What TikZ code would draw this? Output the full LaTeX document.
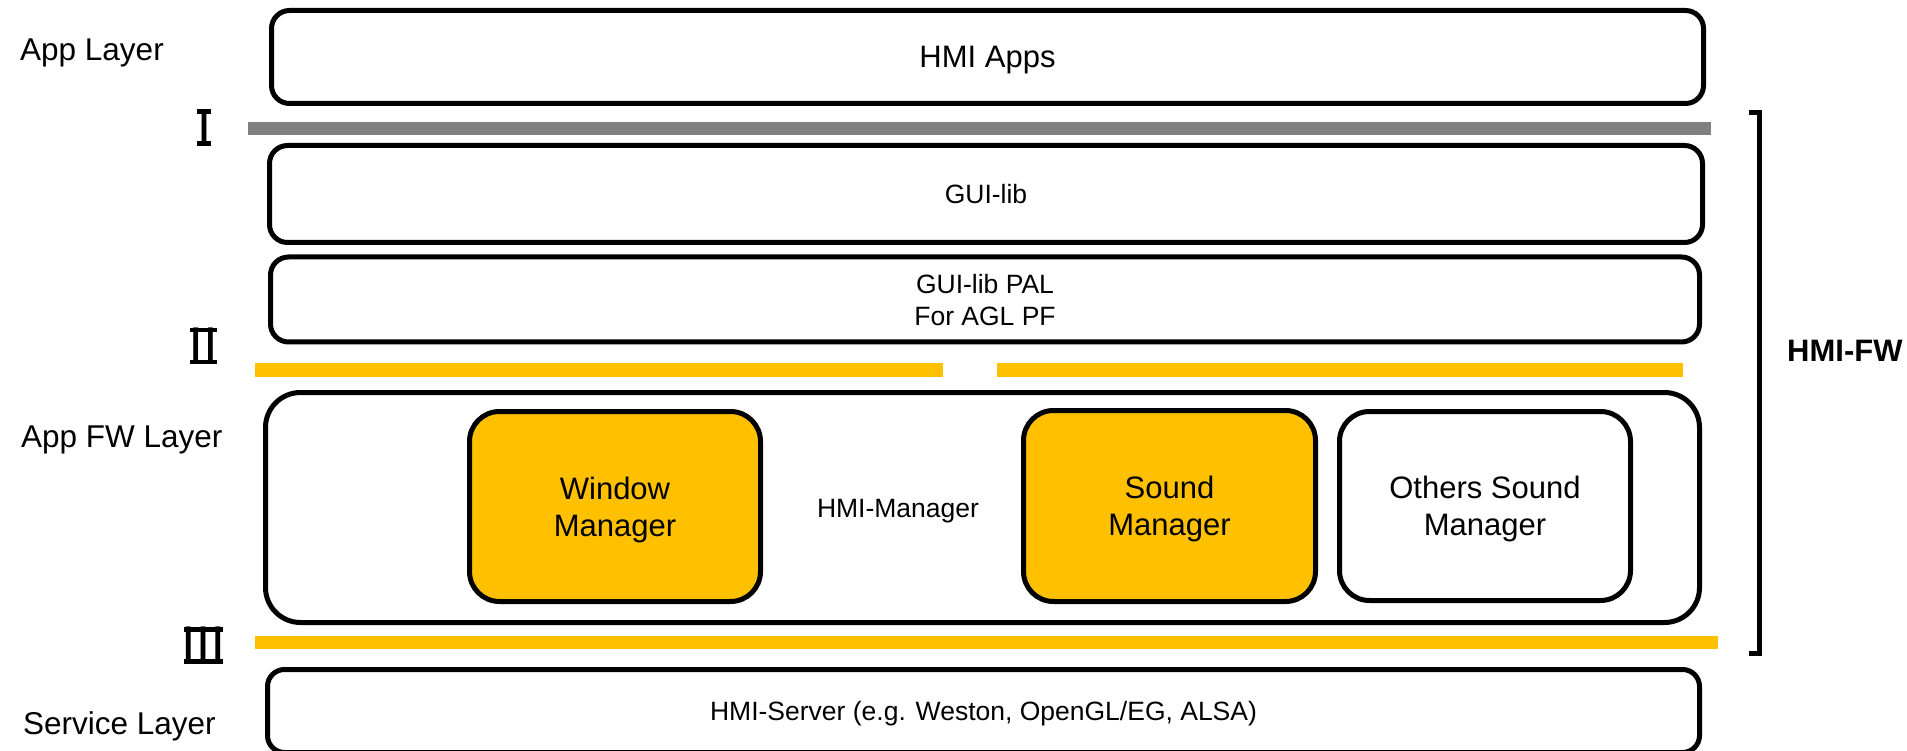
\documentclass[tikz,border=0pt]{standalone}
\usepackage{fontspec}
\setmainfont{Liberation Sans}
\newfontfamily\numfont{Noto Sans CJK JP}
\definecolor{barYellow}{HTML}{FFC000}
\definecolor{barGray}{HTML}{808080}

% top and bottom serif bars of a roman numeral node: #1 node, #2 half width
\newcommand\numeralbars[2]{%
  \fill[black] ([xshift=-#2,yshift=18.5pt]#1.center) rectangle ([xshift=#2,yshift=14pt]#1.center);
  \fill[black] ([xshift=-#2,yshift=-13.5pt]#1.center) rectangle ([xshift=#2,yshift=-18pt]#1.center);
}

\begin{document}
\begin{tikzpicture}[x=1pt,y=-1pt,
  layerbox/.style={draw=black, line width=5pt, fill=white, inner sep=0pt,
                   align=center, rounded corners=18pt, text depth=0pt},
  mgrbox/.style={layerbox, rounded corners=30pt},
  bigtext/.style={font=\fontsize{31}{37}\selectfont},
  smalltext/.style={font=\fontsize{26.5}{32}\selectfont},
  numeral/.style={font=\numfont\fontsize{50}{50}\selectfont, inner sep=0pt},
  label/.style={font=\fontsize{31.5}{36}\selectfont, anchor=base west, inner sep=0pt},
  bracketline/.style={line width=5pt}]

\useasboundingbox (0,0) rectangle (1907,751);
\clip (0,0) rectangle (1907,751);

% interface bars
\fill[barGray]   (248,122.5) rectangle (1711,135.5);
\fill[barYellow] (255,363) rectangle (943,377);
\fill[barYellow] (997,363) rectangle (1683,377);
\fill[barYellow] (255,636) rectangle (1718,649);

% layer boxes
\node[layerbox, bigtext, minimum width=1432pt, minimum height=93pt]
  (apps) at (987.5,57) {HMI Apps};
\node[layerbox, smalltext, minimum width=1433pt, minimum height=97pt]
  (guilib) at (986,194) {GUI-lib};
\node[layerbox, smalltext, minimum width=1429pt, minimum height=85pt]
  (pal) at (985,299.5) {GUI-lib PAL\\For AGL PF};
\node[layerbox, rounded corners=35pt, minimum width=1434pt, minimum height=230pt]
  (fw) at (982.5,507.5) {};
\node[layerbox, smalltext, rounded corners=17pt, minimum width=1432pt, minimum height=83pt]
  (server) at (983.5,711) {HMI-Server (e.g. Weston, OpenGL/EG, ALSA)};

% managers inside the framework layer
\node[smalltext, inner sep=0pt, text depth=0pt] (hmimgr) at (898,508.5) {HMI-Manager};
\node[mgrbox, bigtext, fill=barYellow, minimum width=291pt, minimum height=190pt]
  (wm) at (615,506.5) {Window\\Manager};
\node[mgrbox, bigtext, fill=barYellow, minimum width=292pt, minimum height=191pt]
  (sm) at (1169.5,506) {Sound\\Manager};
\node[mgrbox, bigtext, minimum width=291pt, minimum height=189pt]
  (osm) at (1485,506) {Others Sound\\Manager};

% layer names
\node[label] (lapp)  at (20,61)  {App Layer};
\node[label] (lfw)   at (21,447) {App FW Layer};
\node[label] (lsrv)  at (23,734) {Service Layer};

% interface numerals
\node[numeral] (n1) at (204,128)   {Ⅰ};
\node[numeral] (n2) at (203.5,346.5) {Ⅱ};
\node[numeral] (n3) at (203.5,645.5) {Ⅲ};
\numeralbars{n1}{7pt}
\numeralbars{n2}{13.5pt}
\numeralbars{n3}{19.5pt}

% HMI-FW bracket
\coordinate (brtopL) at (1749,112.5);
\coordinate (brtopR) at (1759.5,112.5);
\coordinate (brbotR) at (1759.5,653.5);
\coordinate (brbotL) at (1749,653.5);
\draw[bracketline] (brtopL) -- (brtopR) -- (brbotR) -- (brbotL);
\node[font=\bfseries\fontsize{31}{36}\selectfont, anchor=base west, inner sep=0pt]
  (hmifw) at (1787,362) {HMI-FW};

\end{tikzpicture}
\end{document}
